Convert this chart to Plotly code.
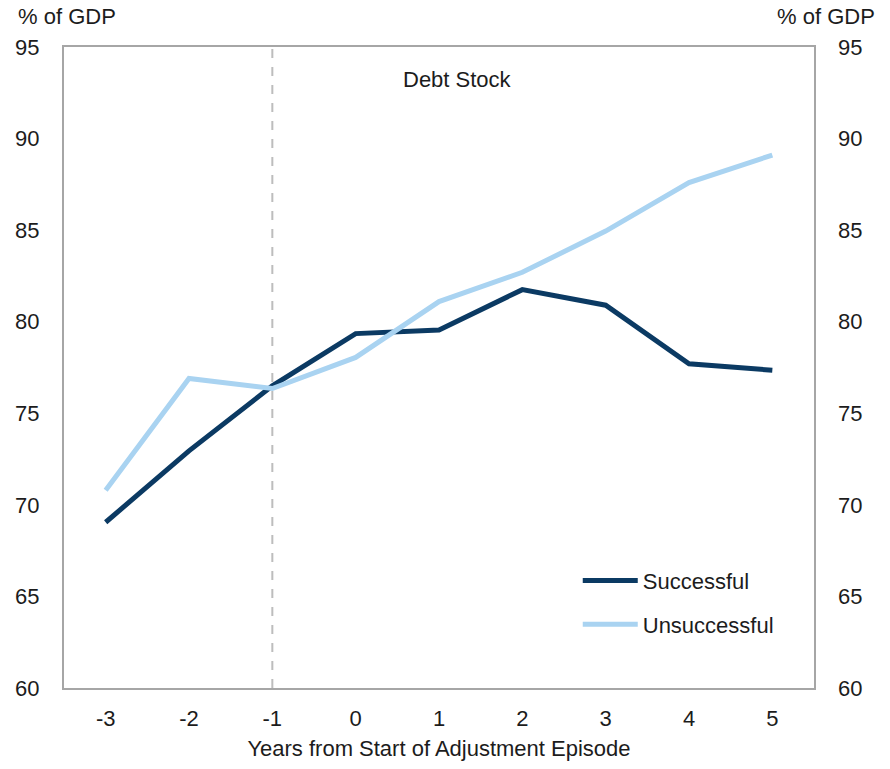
import plotly.graph_objects as go

years = [-3, -2, -1, 0, 1, 2, 3, 4, 5]
year_labels = ["-3", "-2", "-1", "0", "1", "2", "3", "4", "5"]
successful = [69.05, 72.95, 76.5, 79.35, 79.55, 81.75, 80.9, 77.7, 77.35]
unsuccessful = [70.8, 76.9, 76.35, 78.05, 81.1, 82.7, 84.95, 87.6, 89.1]
y_ticks = [60, 65, 70, 75, 80, 85, 90, 95]

DARK = "#0b3a63"
LIGHT = "#a9d3f1"
TEXT = "#1c1c1c"
FONT = "Liberation Sans, Arial, sans-serif"
FS = 22

fig = go.Figure()
fig.add_trace(go.Scatter(x=years, y=successful, mode="lines", name="Successful",
                         legendgroup="a", line=dict(color=DARK, width=5)))
fig.add_trace(go.Scatter(x=years, y=unsuccessful, mode="lines", name="Unsuccessful",
                         legendgroup="b", line=dict(color=LIGHT, width=5)))
# mirror trace so the right-hand axis is drawn
fig.add_trace(go.Scatter(x=years, y=successful, mode="lines", yaxis="y2",
                         line=dict(color="rgba(0,0,0,0)", width=0),
                         showlegend=False, hoverinfo="skip"))

axis_line = "#a6a6a6"
fig.update_layout(
    width=890, height=769,
    margin=dict(l=64, r=76, t=47, b=81),
    paper_bgcolor="white", plot_bgcolor="white",
    font=dict(family=FONT, size=FS, color=TEXT),
    xaxis=dict(range=[-3.5, 5.5], tickvals=years, ticktext=year_labels,
               showgrid=False, zeroline=False,
               showline=True, mirror=True, linecolor=axis_line, linewidth=2,
               ticks="", ticklabelstandoff=10,
               title=dict(text="Years from Start of Adjustment Episode", standoff=10,
                          font=dict(size=FS))),
    yaxis=dict(range=[60, 95], tickvals=y_ticks, showgrid=False, zeroline=False,
               showline=True, mirror=True, linecolor=axis_line, linewidth=2,
               ticks="", ticklabelstandoff=18),
    yaxis2=dict(range=[60, 95], tickvals=y_ticks, overlaying="y", side="right",
                showgrid=False, zeroline=False, showline=False, ticks="",
                ticklabelstandoff=23),
    showlegend=True,
    legend=dict(x=0.685, y=0.2, xanchor="left", yanchor="top",
                bgcolor="rgba(0,0,0,0)", font=dict(size=FS), tracegroupgap=12,
                itemwidth=55),
)

fig.add_shape(type="line", x0=-1, x1=-1, y0=60, y1=95, xref="x", yref="y",
              line=dict(color="#bdbdbd", width=2, dash="dash"), layer="below")

fig.add_annotation(text="Debt Stock", x=0.525, y=0.95, xref="paper", yref="paper",
                   showarrow=False, font=dict(size=FS), xanchor="center", yanchor="middle")
fig.add_annotation(text="% of GDP", x=0, y=1, xref="paper", yref="paper",
                   xshift=-48, yshift=16, showarrow=False, xanchor="left",
                   yanchor="bottom", font=dict(size=FS))
fig.add_annotation(text="% of GDP", x=1, y=1, xref="paper", yref="paper",
                   xshift=63, yshift=16, showarrow=False, xanchor="right",
                   yanchor="bottom", font=dict(size=FS))

fig.write_html("out.html")
